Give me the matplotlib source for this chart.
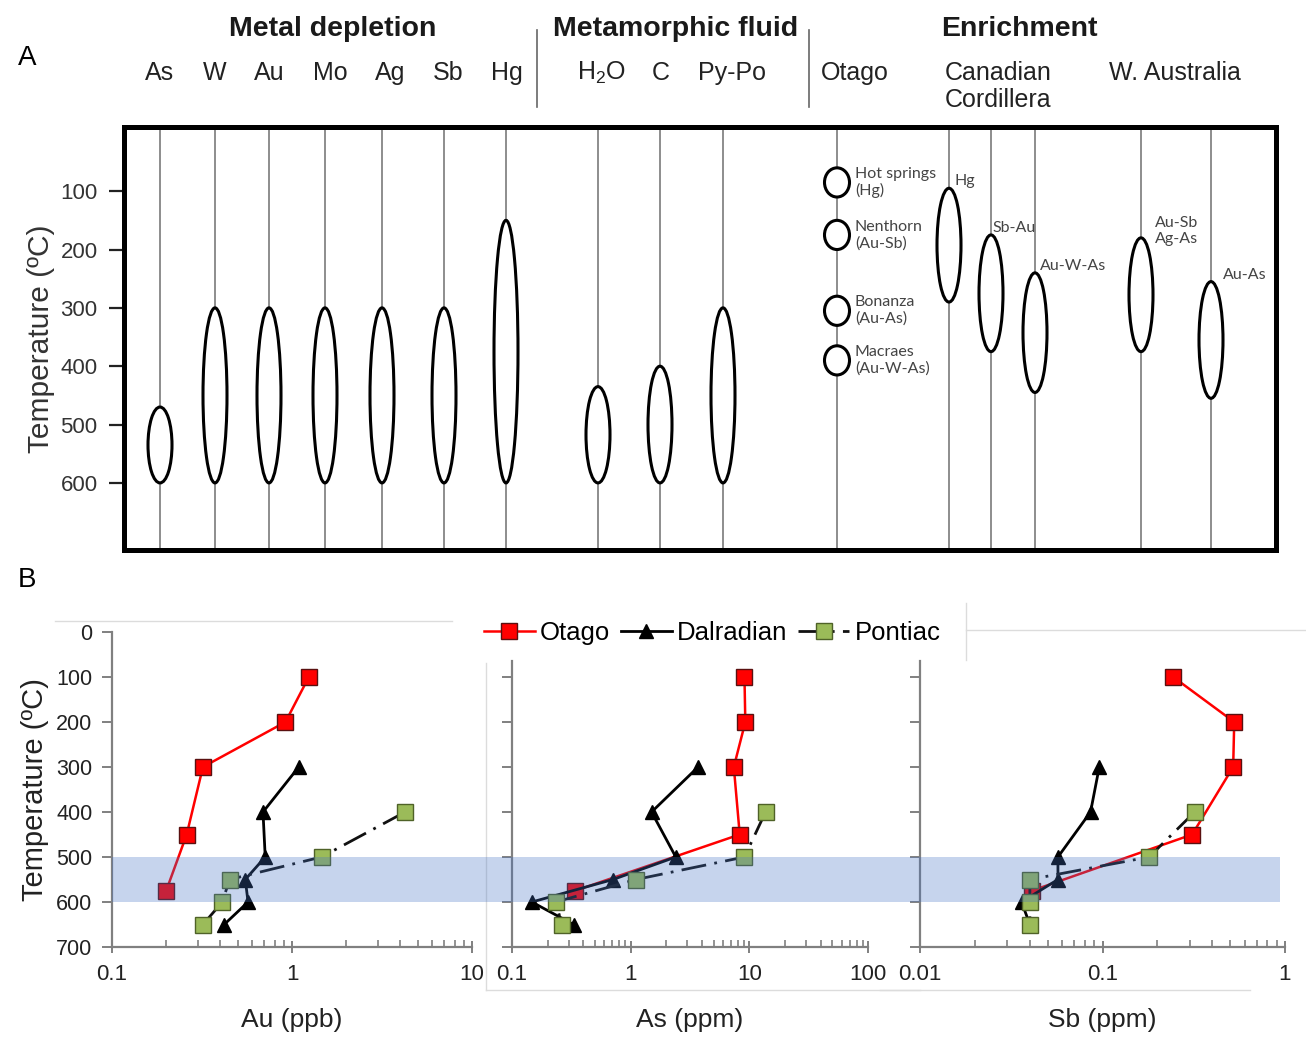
import matplotlib.pyplot as plt
from matplotlib.patches import Ellipse
from matplotlib.lines import Line2D
from matplotlib.ticker import FixedLocator, FuncFormatter, NullFormatter, LogLocator

plt.rcParams['font.family'] = ['Liberation Sans', 'DejaVu Sans']
plt.rcParams['mathtext.fontset'] = 'custom'
plt.rcParams['mathtext.rm'] = 'Liberation Sans'
plt.rcParams['mathtext.it'] = 'Liberation Sans:italic'

W, H = 1306, 1040

# ---- panel A: temperature ranges (deg C) ----
depletion = ['As', 'W', 'Au', 'Mo', 'Ag', 'Sb', 'Hg']
depletion_top = [470, 300, 300, 300, 300, 300, 150]
depletion_bottom = [600, 600, 600, 600, 600, 600, 600]
fluid = ['H$_2$O', 'C', 'Py-Po']
fluid_top = [435, 400, 300]
fluid_bottom = [600, 600, 600]
otago_deposits = ['Hot springs\n(Hg)', 'Nenthorn\n(Au-Sb)', 'Bonanza\n(Au-As)',
                  'Macraes\n(Au-W-As)']
otago_deposit_temp = [85, 175, 305, 390]
cordillera = ['Hg', 'Sb-Au', 'Au-W-As']
cordillera_top = [95, 175, 240]
cordillera_bottom = [290, 375, 445]
w_australia = ['Au-Sb\nAg-As', 'Au-As']
w_australia_top = [180, 255]
w_australia_bottom = [375, 455]

# ---- panel B: concentrations vs temperature ----
otago_T = [100, 200, 300, 450, 575]
otago_au = [1.24, 0.92, 0.32, 0.26, 0.20]
otago_as = [9.1, 9.25, 7.4, 8.3, 0.34]
otago_sb = [0.244, 0.527, 0.52, 0.31, 0.041]
dalradian_T = [300, 400, 500, 550, 600, 650]
dalradian_au = [1.09, 0.69, 0.71, 0.55, 0.57, 0.42]
dalradian_as = [3.7, 1.5, 2.4, 0.71, 0.147, 0.33]
dalradian_sb = [0.096, 0.086, 0.057, 0.057, 0.036, 0.040]
pontiac_T = [400, 500, 550, 600, 650]
pontiac_au = [4.25, 1.46, 0.45, 0.41, 0.32]
pontiac_as = [13.7, 9.1, 1.11, 0.234, 0.263]
pontiac_sb = [0.32, 0.18, 0.040, 0.040, 0.040]


def box(l, t, r, b):
    """pixel box -> figure fraction rect"""
    return [l / W, 1 - b / H, (r - l) / W, (b - t) / H]


def ftext(x, y, s, **kw):
    fig.text(x / W, 1 - y / H, s, **kw)


def fline(xs, ys, **kw):
    fig.add_artist(Line2D([x / W for x in xs], [1 - y / H for y in ys],
                          transform=fig.transFigure, **kw))


fig = plt.figure(figsize=(W / 100, H / 100), dpi=100)

# ================= panel A =================
axA = fig.add_axes(box(124, 127, 1276, 550))
axA.set_xlim(124, 1276)
axA.set_ylim(715, -10)
for sp in axA.spines.values():
    sp.set_linewidth(3.6)
axA.set_xticks([])
axA.set_yticks([100, 200, 300, 400, 500, 600])
axA.tick_params(axis='y', length=11, width=1.6, pad=8, labelsize=16,
                color='#222222', labelcolor='#333333')
axA.set_ylabel('Temperature (ºC)', fontsize=21.5, color='#333333',
               labelpad=4)

ell_w = 24
dep_x = [160, 215, 269, 325, 382, 444, 506]
fluid_x = [598, 660, 723]
otago_x = 837
cord_x = [949, 991, 1035]
waus_x = [1141, 1211]

for x in dep_x + fluid_x + [otago_x] + cord_x + waus_x:
    axA.axvline(x, color='#7a7a7a', lw=1.2, zorder=1)


def ranges(xs, tops, bottoms):
    for x, t, b in zip(xs, tops, bottoms):
        axA.add_patch(Ellipse((x, (t + b) / 2), ell_w, b - t, fc='white',
                              ec='black', lw=2.2, zorder=3))


ranges(dep_x, depletion_top, depletion_bottom)
ranges(fluid_x, fluid_top, fluid_bottom)
ranges(cord_x, cordillera_top, cordillera_bottom)
ranges(waus_x, w_australia_top, w_australia_bottom)

small = dict(family=['Lato', 'DejaVu Sans'], fontsize=11.5, color='#444444')
for name, t in zip(otago_deposits, otago_deposit_temp):
    axA.add_patch(Ellipse((otago_x, t), 25, 50, fc='white', ec='black',
                          lw=2.2, zorder=3))
    axA.text(otago_x + 18, t, name, va='center', ha='left',
             linespacing=1.2, **small)
for name, x, t, dx in zip(cordillera, cord_x, cordillera_top, [6, 1, 5]):
    axA.text(x + dx, t - 12, name, va='center', ha='left', **small)
for name, x, t, dx in zip(w_australia, waus_x, w_australia_top, [14, 12]):
    axA.text(x + dx, t - 12, name, va='center', ha='left',
             linespacing=1.2, **small)

# header
ftext(18, 58, 'A', fontsize=20, va='center', ha='left')
ftext(18, 580, 'B', fontsize=20, va='center', ha='left')
hdr = dict(fontsize=20.5, fontweight='bold', va='center', ha='center',
           color='#1a1a1a')
ftext(333, 29, 'Metal depletion', **hdr)
ftext(676, 29, 'Metamorphic fluid', **hdr)
ftext(1019, 29, 'Enrichment', **hdr)
lab = dict(fontsize=18, va='center', ha='center', color='#222222')
dep_lx = [160, 215, 269, 330, 390, 448, 507]
fluid_lx = [601, 661, 732]
for name, x in zip(depletion, dep_lx):
    ftext(x, 73, name, **lab)
for name, x in zip(fluid, fluid_lx):
    ftext(x, 73, name, **lab)
ftext(855, 73, 'Otago', **lab)
ftext(998, 73, 'Canadian', **lab)
ftext(998, 100, 'Cordillera', **lab)
ftext(1175, 73, 'W. Australia', **lab)
fline([537, 537], [30, 107], color='#666666', lw=1.2)
fline([809, 809], [30, 107], color='#666666', lw=1.2)

# ================= panel B =================
# faint chart frames from the original composite
frame = dict(color='#dcdcdc', lw=1)
fline([55, 452], [621, 621], **frame)
fline([486, 486], [663, 990], **frame)
fline([486, 920], [990, 990], **frame)
fline([966, 966], [603, 660], **frame)
fline([966, 1306], [630, 630], **frame)
fline([880, 1250], [990, 990], **frame)

panels = [
    (box(112, 632, 472, 947), (0.1, 10), 'Au (ppb)',
     otago_au, dalradian_au, pontiac_au),
    (box(512, 632, 868, 947), (0.1, 100), 'As (ppm)',
     otago_as, dalradian_as, pontiac_as),
    (box(920, 632, 1285, 947), (0.01, 1), 'Sb (ppm)',
     otago_sb, dalradian_sb, pontiac_sb),
]

spine_c = '#808080'
handles = None
for i, (rect, xlim, xlabel, o, d, p) in enumerate(panels):
    ax = fig.add_axes(rect)
    ax.patch.set_alpha(0)
    ax.set_xscale('log')
    ax.set_xlim(*xlim)
    ax.set_ylim(700, 0)
    for s in ['top', 'right']:
        ax.spines[s].set_visible(False)
    for s in ['left', 'bottom']:
        ax.spines[s].set_color(spine_c)
        ax.spines[s].set_linewidth(1.6)
    ax.xaxis.set_major_formatter(FuncFormatter(lambda v, pos: f'{v:g}'))
    ax.xaxis.set_minor_locator(LogLocator(base=10, subs=range(2, 10)))
    ax.xaxis.set_minor_formatter(NullFormatter())
    ax.tick_params(axis='x', which='major', direction='inout', length=9,
                   width=1.4, color=spine_c, labelsize=16, pad=8,
                   labelcolor='#222222')
    ax.tick_params(axis='x', which='minor', direction='in', length=5,
                   width=1.2, color=spine_c)
    ax.tick_params(axis='y', direction='out', length=7, width=1.4,
                   color=spine_c, labelsize=15.5, labelcolor='#222222', pad=7)
    if i == 0:
        ax.yaxis.set_major_locator(FixedLocator(range(0, 701, 100)))
        ax.set_ylabel('Temperature (ºC)', fontsize=21, color='#222222',
                      labelpad=5)
    else:
        ax.yaxis.set_major_locator(FixedLocator(range(100, 701, 100)))
        ax.set_yticklabels([])
        ax.spines['left'].set_bounds(65, 700)
    ax.set_xlabel(xlabel, fontsize=19, color='#222222', labelpad=16)

    l1, = ax.plot(o, otago_T, color='#ff0000', lw=1.8, marker='s', ms=11,
                  mfc='#ff0000', mec='#5a1010', mew=1, label='Otago')
    l2, = ax.plot(d, dalradian_T, color='black', lw=2, marker='^', ms=10,
                  mfc='black', mec='black', label='Dalradian')
    l3, = ax.plot(p, pontiac_T, color='#111111', lw=2,
                  dashes=(9, 3, 1, 3), marker='s', ms=11, mfc='#9bbb59',
                  mec='#4f6228', mew=1, label='Pontiac')
    for ln in (l1, l2, l3):
        ln.set_clip_on(False)
    if handles is None:
        handles = [l1, l2, l3]

# translucent 500-600 ºC band drawn over the curves
axBand = fig.add_axes(box(112, 632, 1280, 947), zorder=10)
axBand.set_ylim(700, 0)
axBand.axhspan(500, 600, color='#4472c4', alpha=0.3, lw=0)
axBand.axis('off')

fig.legend(handles, ['Otago', 'Dalradian', 'Pontiac'], loc='center',
           bbox_to_anchor=(712 / W, 1 - 633 / H), ncol=3, frameon=False,
           fontsize=18.5, handlelength=2.0, handletextpad=0.2,
           columnspacing=0.4)

fig.savefig('out.png', dpi=100)
